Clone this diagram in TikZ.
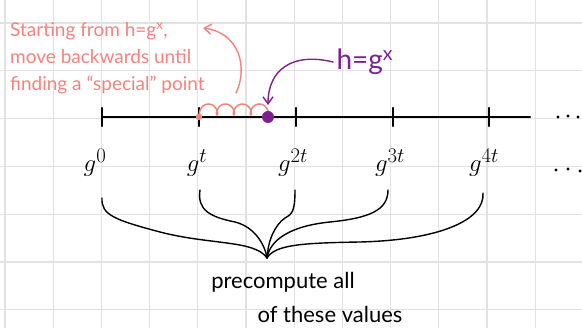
\documentclass[tikz,border=0pt]{standalone}
\usepackage{fontspec}
\setmainfont{Lato}
\usepackage{amsmath}
\usepackage{tikz}
\usetikzlibrary{arrows.meta}
\definecolor{noteColor}{HTML}{F4837D}
\definecolor{pointColor}{HTML}{7B2290}
\definecolor{gridColor}{HTML}{E2E2E2}

\begin{document}
\begin{tikzpicture}[x=1pt, y=-1pt, line cap=round, line join=round,
    power/.style={font=\fontsize{32}{32}\selectfont},
    brace/.style={line width=1.4pt, black},
    hand/.style={line width=1.4pt, -{Straight Barb[length=7pt, width=10pt]}}]

    \fill[white] (0,0) rectangle (582,328);
    \useasboundingbox (0,0) rectangle (582,328);

    % paper grid
    \foreach \x in {0,...,12}
        \draw[gridColor, line width=1.3pt] ({5+48.2*\x},0) -- ({5+48.2*\x},328);
    \foreach \y in {0,...,6}
        \draw[gridColor, line width=1.3pt] (0,{23+47.8*\y}) -- (582,{23+47.8*\y});

    % number line
    \draw[line width=2.4pt] (102,117) -- (530,117);
    \foreach \k/\x in {0/102, 1/199, 2/296, 3/393, 4/489} {
        \coordinate (t\k) at (\x,117);
        \draw[line width=2.4pt] (\x,108) -- (\x,126);
    }
    \foreach \x/\y in {558/117, 568/116, 578/117, 556/170, 568/169, 580/171}
        \fill (\x,\y) circle (1.6);

    \node[power] (g0) at (95,163) {$g^{0}$};
    \node[power] (g1) at (197,163) {$g^{t}$};
    \node[power] (g2) at (293,163) {$g^{2t}$};
    \node[power] (g3) at (390,163) {$g^{3t}$};
    \node[power] (g4) at (484,163) {$g^{4t}$};

    % walking back to a special point
    \fill[noteColor] (t1) circle (3.2);
    \draw[noteColor, line width=1.5pt, variable=\t, domain=0:25.13, samples=160, smooth]
        plot ({200+2.7*\t-3.8*sin(\t r)}, {115-5.5*(1-cos(\t r))});
    \fill[pointColor] (268,117) circle (6);
    \coordinate (h) at (268,117);

    \node[noteColor, anchor=north west, align=left, inner sep=0pt,
          font=\fontsize{19}{27}\selectfont] (note) at (10,22)
        {Starting from h=g\textsuperscript{x},\\ move backwards until\\ finding a “special” point};
    \coordinate (noteEnd) at (236,93);
    \coordinate (noteTip) at (203,28);
    \draw[hand, noteColor] (noteEnd) .. controls (248,68) and (240,33) .. (noteTip);

    \node[pointColor, font=\fontsize{28}{28}\selectfont, anchor=west] (hlabel) at (333,62) {h=g\textsuperscript{x}};
    \draw[hand, pointColor] (hlabel.west) .. controls (292,52) and (268,70) .. ([yshift=12pt]h);

    % braces down to one point
    \coordinate (J) at (267,258);
    \coordinate (b0) at (102,198);
    \coordinate (b1) at (200,190);
    \coordinate (b2) at (295,190);
    \coordinate (b3) at (388,190);
    \coordinate (b4) at (483,193);
    \draw[brace] (b0) .. controls (101,215) and (115,220) .. (160,232)
        .. controls (210,245) and (255,240) .. (J);
    \draw[brace] (b1) .. controls (197,210) and (210,217) .. (235,222)
        .. controls (255,227) and (265,245) .. (J);
    \draw[brace] (b2) .. controls (295,212) and (292,214) .. (285,218)
        .. controls (275,225) and (268,240) .. (J);
    \draw[brace] (b3) .. controls (388,210) and (370,218) .. (330,222)
        .. controls (290,226) and (270,240) .. (J);
    \draw[brace] (b4) .. controls (485,220) and (440,240) .. (360,242)
        .. controls (300,243) and (275,245) .. (J);

    \node[font=\fontsize{22}{22}\selectfont] (pre) at (283,282) {precompute all};
    \node[font=\fontsize{22}{22}\selectfont] (vals) at (330,314) {of these values};
\end{tikzpicture}
\end{document}
